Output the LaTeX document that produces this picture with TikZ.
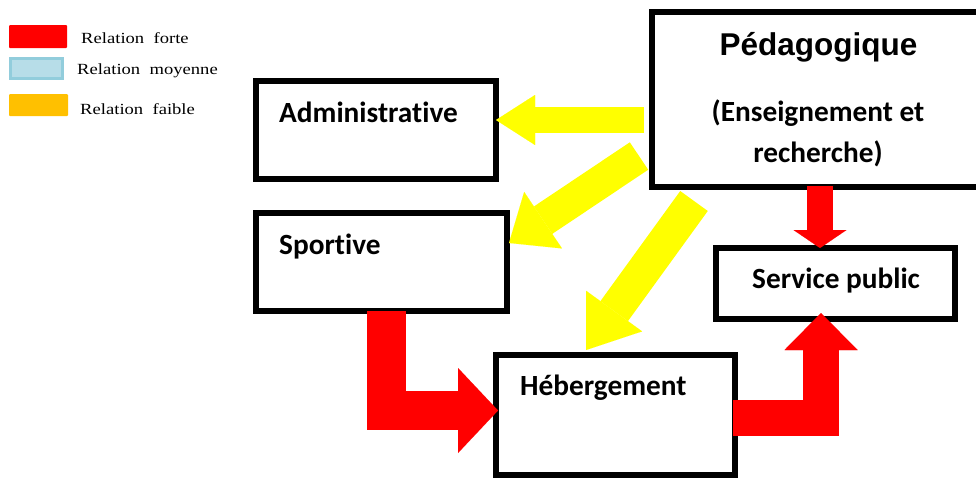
\documentclass[tikz,border=0pt]{standalone}
\usepackage{fontspec}
\setmainfont{Carlito}[Ligatures=NoCommon]
\newfontfamily\legendfont{Liberation Serif}
\newfontfamily\titlefont{Liberation Sans}
\usetikzlibrary{arrows.meta}

\definecolor{strong}{HTML}{FF0000}
\definecolor{medium}{HTML}{B7DDE8}
\definecolor{mediumedge}{HTML}{92CDDC}
\definecolor{weak}{HTML}{FFC000}
\definecolor{arrowyellow}{HTML}{FFFF00}

\begin{document}
\begin{tikzpicture}[x=1pt,y=-1pt,
  frame/.style={draw=black,line width=6.5pt,fill=white,inner sep=0pt,outer sep=0pt,
                minimum width=#1},
  label/.style={font=\bfseries\fontsize{29.3}{34}\selectfont,inner sep=0pt,anchor=base west},
  ctrlabel/.style={font=\bfseries\fontsize{29.3}{34}\selectfont,inner sep=0pt,anchor=base},
  legtext/.style={font=\legendfont\fontsize{15.5}{18}\selectfont,inner sep=0pt,anchor=base west,
                  xscale=1.2},
  blockarrow/.style n args={4}{draw=#1,line width=#2,line cap=butt,line join=miter,
                  -{Triangle[length=#3,width=#4,line width=0.01pt]}}
]
\clip (0,0) rectangle (976,479);

% legend
\node[fill=strong,minimum width=58pt,minimum height=23pt,inner sep=0pt,rounded corners=1pt] (kred) at (38,36.5) {};
\node[fill=medium,draw=mediumedge,line width=3pt,minimum width=52pt,minimum height=20pt,inner sep=0pt] (kblue) at (36.5,68.5) {};
\node[fill=weak,minimum width=59pt,minimum height=22pt,inner sep=0pt,rounded corners=1pt] (korange) at (38.5,105) {};
\node[legtext] (tred) at (81,43) {Relation\ \ forte};
\node[legtext] (tblue) at (77,74) {Relation\ \ moyenne};
\node[legtext] (torange) at (80,114) {Relation\ \ faible};

% boxes
\node[frame=240pt,minimum height=98pt] (adm) at (376,130) {};
\node[frame=251pt,minimum height=98pt] (spo) at (381.5,262) {};
\node[frame=348pt,minimum height=175pt] (ped) at (826,99.5) {};
\node[frame=239pt,minimum height=71pt] (srv) at (835.5,283.5) {};
\node[frame=239pt,minimum height=120pt] (heb) at (615.5,415) {};

% box texts
\node[label] (admt) at (279,122) {Administrative};
\node[label] (spot) at (279,254) {Sportive};
\node[label] (hebt) at (520,395) {Hébergement};
\node[label] (srvt) at (752,288) {Service public};
\node[font=\titlefont\bfseries\fontsize{31.5}{36}\selectfont,inner sep=0pt,anchor=base] (pedt) at (818.5,55) {Pédagogique};
\node[ctrlabel] (pedt2) at (818,121) {(Enseignement et};
\node[ctrlabel] (pedt3) at (818,162) {recherche)};

% connector end points
\coordinate (y1s) at (644,120);  \coordinate (y1e) at (496,120);
\coordinate (y2s) at (639,156);  \coordinate (y2e) at (509,243);
\coordinate (y3s) at (694,201);  \coordinate (y3e) at (586,350);
\coordinate (r1s) at (820,186);  \coordinate (r1e) at (820,248);
\coordinate (r2s) at (386.5,311);\coordinate (r2e) at (498,410.5);
\coordinate (r3s) at (733,417.5);\coordinate (r3e) at (821,313);

% weak relations
\draw[blockarrow={arrowyellow}{26pt}{39pt}{50pt}] (y1s) -- (y1e);
\draw[blockarrow={arrowyellow}{33pt}{41pt}{68pt}] (y2s) -- (y2e);
\draw[blockarrow={arrowyellow}{34pt}{48pt}{69pt}] (y3s) -- (y3e);

% strong relations
\draw[blockarrow={strong}{26pt}{18pt}{53pt}] (r1s) -- (r1e);
\draw[blockarrow={strong}{39pt}{40pt}{85pt}] (r2s) |- (r2e);
\draw[blockarrow={strong}{36pt}{37pt}{73pt}] (r3s) -| (r3e);
\end{tikzpicture}
\end{document}
